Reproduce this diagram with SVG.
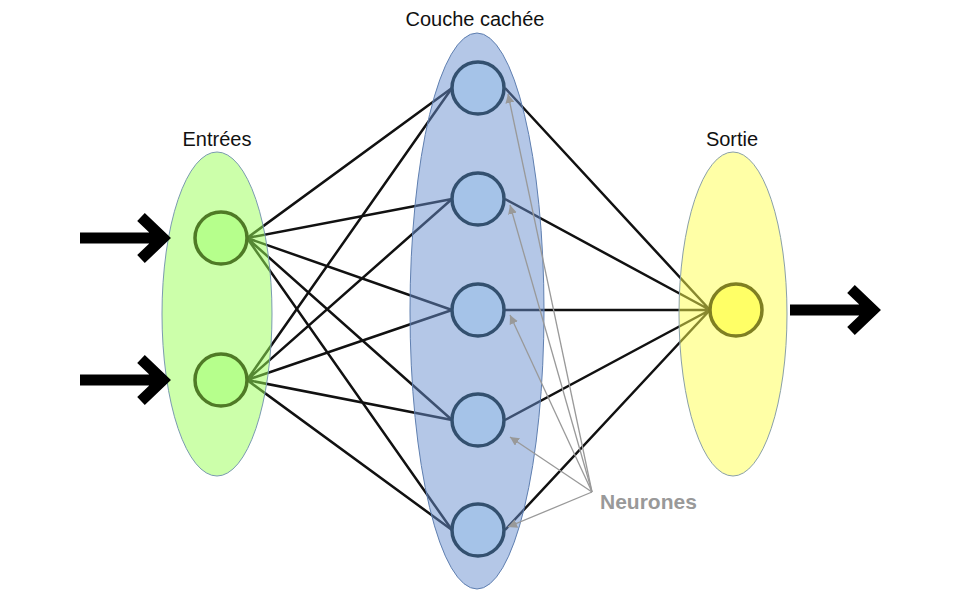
<svg xmlns="http://www.w3.org/2000/svg" width="966" height="597" viewBox="0 0 966 597">
<style>
.lbl{font-family:"Liberation Sans",Arial,sans-serif;font-size:20px;fill:#111;text-anchor:middle}
.ann{font-family:"Liberation Sans",Arial,sans-serif;font-size:21px;font-weight:bold;fill:#999}
.w{stroke:#111;stroke-width:2.5;fill:none}
.g{stroke:#999;stroke-width:1.3;fill:none}
.big{stroke:#000;stroke-width:11;fill:none}
.layer{stroke-width:1;fill-opacity:0.5}
.in{fill:#b6ff8c;stroke:#4f7a26;stroke-width:3.5}
.hid{fill:#a5c3e8;stroke:#33506f;stroke-width:3.5}
.out{fill:#ffff66;stroke:#7f7f22;stroke-width:3.5}
</style>
<defs>
<marker id="ga" viewBox="0 0 10 10" refX="10" refY="5" markerWidth="9" markerHeight="9" markerUnits="userSpaceOnUse" orient="auto"><path d="M0,0L10,5L0,10z" fill="#999"/></marker>
</defs>
<g id="connectors">
<g class="w">
<path d="M247,238L452,88M247,238L452,199M247,238L452,310M247,238L452,420M247,238L452,530"/>
<path d="M247,380L452,88M247,380L452,199M247,380L452,310M247,380L452,420M247,380L452,530"/>
<path d="M505,88L710,310M505,199L710,310M505,310L710,310M505,420L710,310M505,530L710,310"/>
</g>
</g>
<g id="layer-in"><ellipse class="layer" cx="217" cy="314" rx="55" ry="162" fill="#99ff55" stroke="#7a9ab0"/></g>
<g id="layer-hidden"><ellipse class="layer" cx="477" cy="311" rx="67" ry="278" fill="#698fcf" stroke="#5f7fb0"/></g>
<g id="layer-out"><ellipse class="layer" cx="733" cy="314" rx="54" ry="162" fill="#ffff4d" stroke="#8aa0a8"/></g>
<g id="io-arrows">
<path class="big" d="M80,238H162M141,217L163,238L141,259"/>
<path class="big" d="M80,380H162M141,359L163,380L141,401"/>
<path class="big" d="M790,310H872M851,289L873,310L851,331"/>
</g>
<g id="in1"><circle class="in" cx="221" cy="238" r="26"/></g>
<g id="in2"><circle class="in" cx="221" cy="380" r="26"/></g>
<g id="h1"><circle class="hid" cx="478" cy="88" r="26"/></g>
<g id="h2"><circle class="hid" cx="478" cy="199" r="26"/></g>
<g id="h3"><circle class="hid" cx="478" cy="310" r="26"/></g>
<g id="h4"><circle class="hid" cx="478" cy="420" r="26"/></g>
<g id="h5"><circle class="hid" cx="478" cy="530" r="26"/></g>
<g id="o1"><circle class="out" cx="736" cy="310" r="26"/></g>
<g id="annotation">
<g class="g" marker-end="url(#ga)">
<path d="M592,492L508,94"/>
<path d="M592,492L510,205"/>
<path d="M592,492L510,315"/>
<path d="M592,492L510,437"/>
<path d="M592,492L508,527"/>
</g>
<text class="ann" x="600" y="509">Neurones</text>
</g>
<g id="labels">
<text class="lbl" x="217" y="146">Entrées</text>
<text class="lbl" x="475" y="26">Couche cachée</text>
<text class="lbl" x="732" y="146">Sortie</text>
</g>
</svg>
